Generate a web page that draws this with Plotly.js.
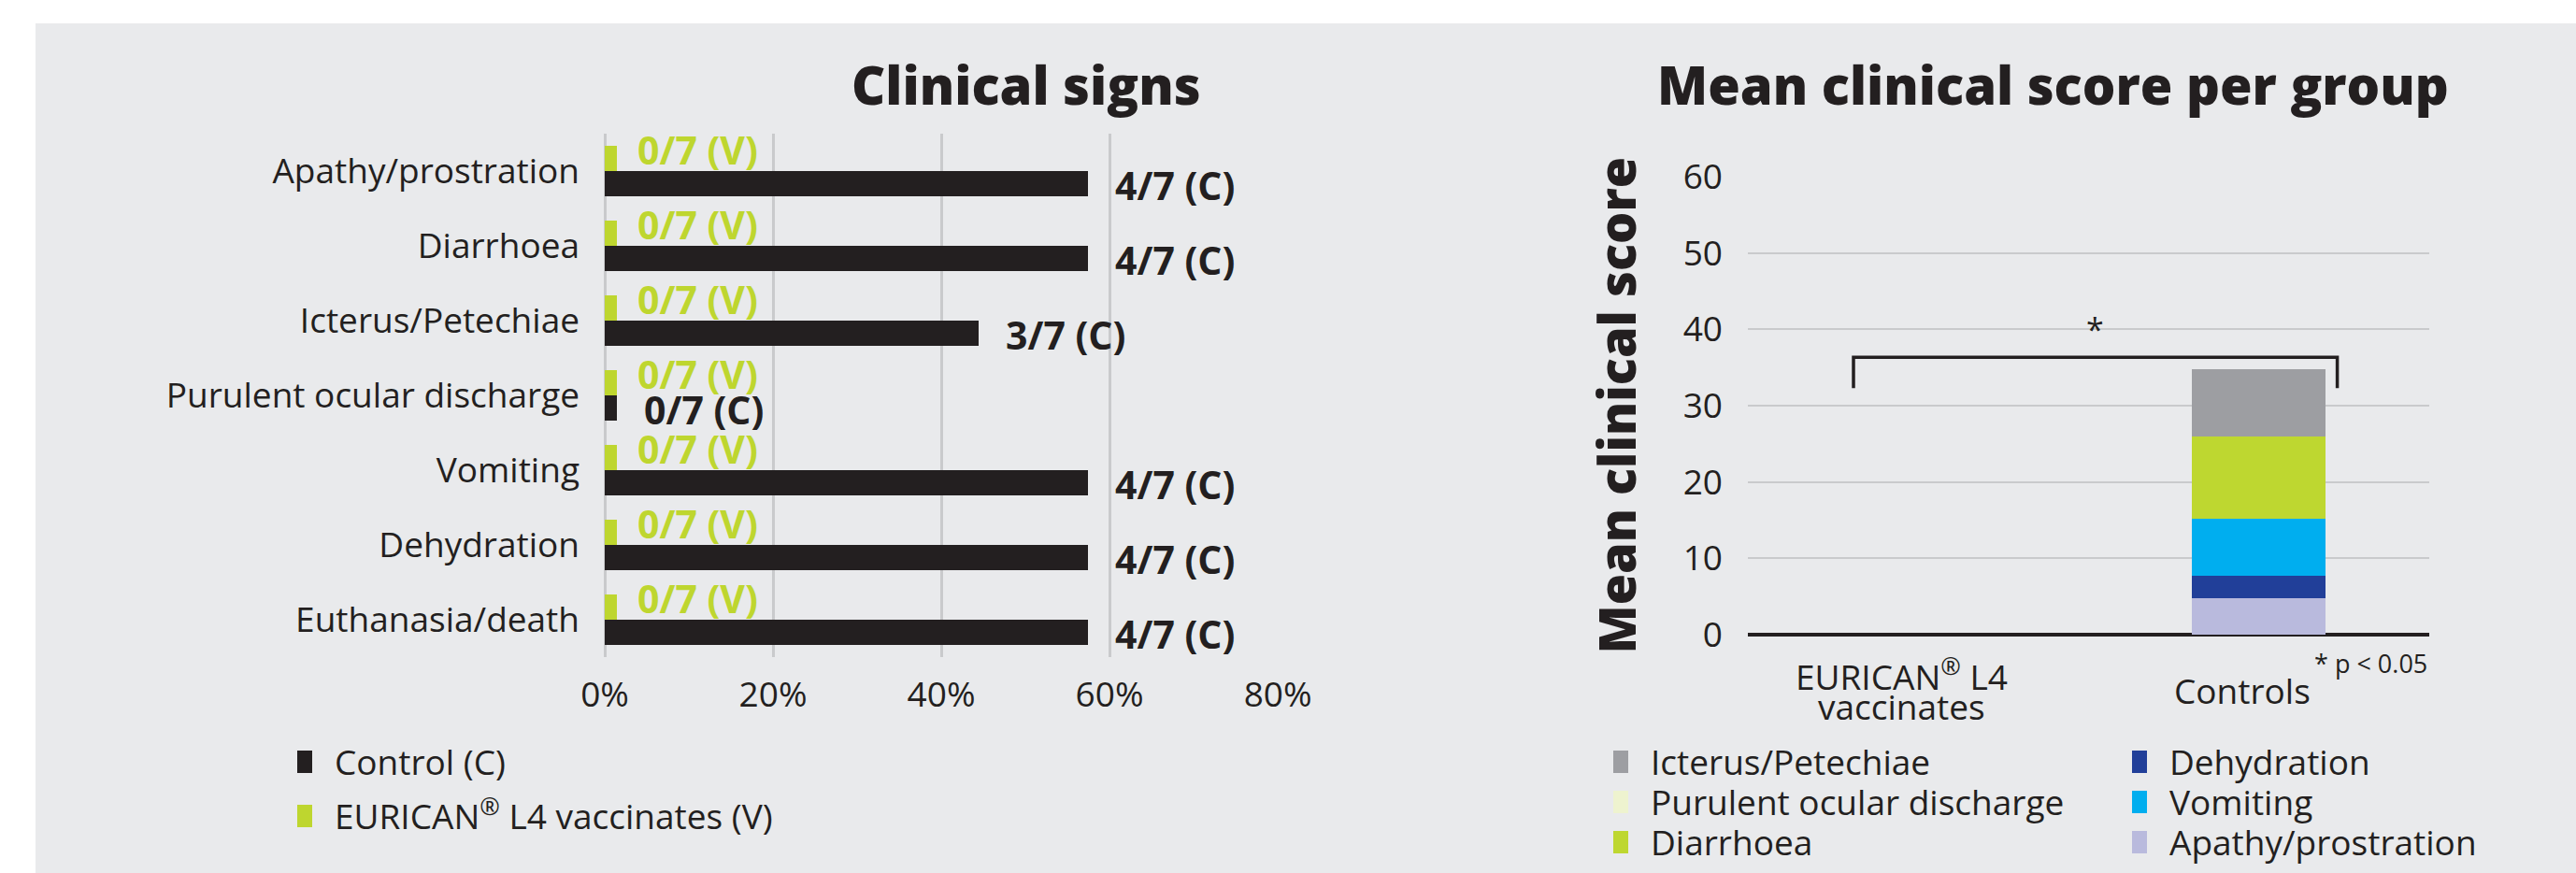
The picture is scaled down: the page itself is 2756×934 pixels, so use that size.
<!DOCTYPE html>
<html>
<head>
<meta charset="utf-8">
<script src="https://cdn.plot.ly/plotly-3.0.1.min.js"></script>
<style>
html, body { margin: 0; padding: 0; background: #ffffff; }
#chart { width: 2756px; height: 934px; }
</style>
</head>
<body>
<div id="chart"></div>
<script>
// ---------- DATA: Clinical signs (left chart) ----------
const signCategories = ['Apathy/prostration', 'Diarrhoea', 'Icterus/Petechiae', 'Purulent ocular discharge', 'Vomiting', 'Dehydration', 'Euthanasia/death'];
const vaccinatePct = [1.45, 1.45, 1.45, 1.45, 1.45, 1.45, 1.45];
const controlPct = [57.4, 57.4, 44.4, 1.45, 57.4, 57.4, 57.4];
const vaccinateLabels = ['0/7 (V)', '0/7 (V)', '0/7 (V)', '0/7 (V)', '0/7 (V)', '0/7 (V)', '0/7 (V)'];
const controlLabels = ['4/7 (C)', '4/7 (C)', '3/7 (C)', '0/7 (C)', '4/7 (C)', '4/7 (C)', '4/7 (C)'];
const pctTicks = [0, 20, 40, 60, 80];
const pctTickLabels = ['0%', '20%', '40%', '60%', '80%'];
const controlName = 'Control (C)';
const vaccinateName = 'EURICAN<sup>®</sup> L4 vaccinates (V)';

// ---------- DATA: Mean clinical score per group (right chart) ----------
const scoreGroups = ['EURICAN® L4 vaccinates', 'Controls'];
const scoreGroupLines = [['EURICAN<sup>®</sup> L4', 'vaccinates'], ['Controls']];
const apathyScore = [0, 4.8];
const dehydrationScore = [0, 2.9];
const vomitingScore = [0, 7.5];
const diarrhoeaScore = [0, 10.8];
const purulentScore = [0, 0];
const icterusScore = [0, 8.8];
const scoreTicks = [0, 10, 20, 30, 40, 50, 60];
const significanceMark = '*';
const pValueNote = '* p < 0.05';

// ---------- STYLE ----------
const W = 2756, H = 934;
const px = v => v / W;             // horizontal pixel -> paper
const py = v => 1 - v / H;         // vertical pixel -> paper
const DARK = '#231f20';
const GREEN = '#bed62f';
const GRID = '#c9cacc';
const BG = '#e9eaec';
const FONT = '"Open Sans", "Noto Sans", sans-serif';

const traces = [
  // left chart
  { type: 'bar', orientation: 'h', name: vaccinateName, x: vaccinatePct, y: signCategories,
    xaxis: 'x', yaxis: 'y', marker: { color: GREEN }, width: 0.3375, offset: -0.3375,
    legend: 'legend2', hoverinfo: 'skip' },
  { type: 'bar', orientation: 'h', name: controlName, x: controlPct, y: signCategories,
    xaxis: 'x', yaxis: 'y3', marker: { color: DARK }, width: 0.3375, offset: 0,
    legend: 'legend', hoverinfo: 'skip' },
  // right chart (stack from bottom)
  { type: 'bar', name: 'Apathy/prostration', x: scoreGroups, y: apathyScore, xaxis: 'x2', yaxis: 'y2',
    marker: { color: '#b9badd' }, legend: 'legend8', hoverinfo: 'skip' },
  { type: 'bar', name: 'Dehydration', x: scoreGroups, y: dehydrationScore, xaxis: 'x2', yaxis: 'y2',
    marker: { color: '#213f99' }, legend: 'legend6', hoverinfo: 'skip' },
  { type: 'bar', name: 'Vomiting', x: scoreGroups, y: vomitingScore, xaxis: 'x2', yaxis: 'y2',
    marker: { color: '#00aeef' }, legend: 'legend7', hoverinfo: 'skip' },
  { type: 'bar', name: 'Diarrhoea', x: scoreGroups, y: diarrhoeaScore, xaxis: 'x2', yaxis: 'y2',
    marker: { color: '#bed730' }, legend: 'legend5', hoverinfo: 'skip' },
  { type: 'bar', name: 'Purulent ocular discharge', x: scoreGroups, y: purulentScore, xaxis: 'x2', yaxis: 'y2',
    marker: { color: '#eef3cf' }, legend: 'legend4', hoverinfo: 'skip' },
  { type: 'bar', name: 'Icterus/Petechiae', x: scoreGroups, y: icterusScore, xaxis: 'x2', yaxis: 'y2',
    marker: { color: '#9d9ea2' }, legend: 'legend3', hoverinfo: 'skip' }
];

// ---------- ANNOTATIONS ----------
const annotations = [];
signCategories.forEach((cat, i) => {
  annotations.push({ xref: 'x', yref: 'y', x: vaccinatePct[i], y: cat, text: vaccinateLabels[i],
    showarrow: false, xanchor: 'left', yanchor: 'middle', xshift: 20, yshift: 23,
    font: { family: FONT, size: 41, color: GREEN, weight: 'bold' } });
  annotations.push({ xref: 'x', yref: 'y', x: controlPct[i], y: cat, text: controlLabels[i],
    showarrow: false, xanchor: 'left', yanchor: 'middle', xshift: 27, yshift: -15,
    font: { family: FONT, size: 41, color: DARK, weight: 'bold' } });
});
// titles
annotations.push({ xref: 'paper', yref: 'paper', x: px(1098), y: py(90), text: 'Clinical signs',
  showarrow: false, xanchor: 'center', yanchor: 'middle', font: { family: FONT, size: 56, color: DARK, weight: 800 } });
annotations.push({ xref: 'paper', yref: 'paper', x: px(2196), y: py(90), text: 'Mean clinical score per group',
  showarrow: false, xanchor: 'center', yanchor: 'middle', font: { family: FONT, size: 56, color: DARK, weight: 800 } });
// group labels under right chart
scoreGroups.forEach((g, i) => {
  const lines = scoreGroupLines[i];
  lines.forEach((ln, j) => {
    annotations.push({ xref: 'x2', yref: 'paper', x: g, y: py(738 + (j - (lines.length - 1) / 2) * 34),
      text: ln, showarrow: false, xanchor: 'center', yanchor: 'middle', xshift: -18,
      font: { family: FONT, size: 37, color: DARK } });
  });
});
// significance
annotations.push({ xref: 'x2', yref: 'y2', x: 0.52, y: 40.1, text: significanceMark, showarrow: false,
  xanchor: 'center', yanchor: 'middle', font: { family: FONT, size: 34, color: DARK } });
annotations.push({ xref: 'paper', yref: 'paper', x: px(2599), y: py(709), text: pValueNote, showarrow: false,
  xanchor: 'right', yanchor: 'middle', font: { family: FONT, size: 27, color: DARK } });

// ---------- LEGENDS ----------
function leg(xPix, yPix) {
  return { x: px(xPix), y: py(yPix), xref: 'paper', yref: 'paper', xanchor: 'left', yanchor: 'middle',
    bgcolor: 'rgba(0,0,0,0)', borderwidth: 0, font: { family: FONT, size: 37, color: DARK } };
}

const layout = {
  width: W, height: H,
  margin: { l: 0, r: 0, t: 0, b: 0, pad: 0 },
  paper_bgcolor: '#ffffff',
  plot_bgcolor: 'rgba(0,0,0,0)',
  font: { family: FONT, color: DARK, size: 37 },
  barmode: 'stack',
  bargap: 0.608,
  showlegend: true,
  xaxis: { domain: [px(647), px(1368)], anchor: 'y', range: [0, 80.1], tickmode: 'array',
    tickvals: pctTicks, ticktext: pctTickLabels,
    showgrid: true, gridcolor: GRID, gridwidth: 3, zeroline: true, zerolinecolor: GRID, zerolinewidth: 3,
    showline: false, ticks: '', ticklabelstandoff: 15, tickfont: { family: FONT, size: 37, color: DARK },
    fixedrange: true },
  yaxis: { domain: [py(703), py(143)], anchor: 'x', type: 'category', categoryorder: 'array',
    categoryarray: signCategories, range: [6.5, -0.5], autorange: false, showgrid: false, zeroline: false,
    showline: false, ticks: '', ticklabelstandoff: 26, tickfont: { family: FONT, size: 37, color: DARK },
    fixedrange: true },
  yaxis3: { overlaying: 'y', anchor: 'x', type: 'category', categoryorder: 'array',
    categoryarray: signCategories, range: [6.5, -0.5], autorange: false, visible: false, fixedrange: true },
  xaxis2: { domain: [px(1870), px(2599)], anchor: 'y2', type: 'category', categoryorder: 'array',
    categoryarray: scoreGroups, range: [-0.5, 1.5], showticklabels: false, showgrid: false, zeroline: false,
    showline: false, ticks: '', fixedrange: true },
  yaxis2: { domain: [py(679), py(188.2)], anchor: 'x2', range: [0, 60.1], tickvals: scoreTicks,
    showgrid: true, gridcolor: GRID, gridwidth: 2, zeroline: true, zerolinecolor: DARK, zerolinewidth: 4,
    showline: false, ticks: '', ticklabelstandoff: 26, tickfont: { family: FONT, size: 37, color: DARK },
    title: { text: 'Mean clinical score', standoff: 32, font: { family: FONT, size: 54, color: DARK, weight: 800 } },
    fixedrange: true },
  legend: leg(318, 815.5),
  legend2: leg(318, 873.5),
  legend3: leg(1726, 815.5),
  legend4: leg(1726, 858.5),
  legend5: leg(1726, 901.5),
  legend6: leg(2281, 815.5),
  legend7: leg(2281, 858.5),
  legend8: leg(2281, 901.5),
  shapes: [
    { type: 'rect', xref: 'paper', yref: 'paper', x0: px(38), x1: 1.01, y0: -0.01, y1: py(25),
      fillcolor: BG, line: { width: 0 }, layer: 'below' },
    { type: 'path', xref: 'x2', yref: 'y2', path: 'M -0.19,32.3 L -0.19,36.35 L 1.23,36.35 L 1.23,32.3',
      line: { color: DARK, width: 3.5 }, layer: 'above' }
  ],
  annotations: annotations
};

Plotly.newPlot('chart', traces, layout, { staticPlot: true, displayModeBar: false }).then(gd => {
  // enlarge legend swatches to match the square markers of the original
  gd.querySelectorAll('.legendpoints path').forEach(p => {
    p.setAttribute('transform', 'translate(4,0) scale(2)');
  });
});
</script>
</body>
</html>
